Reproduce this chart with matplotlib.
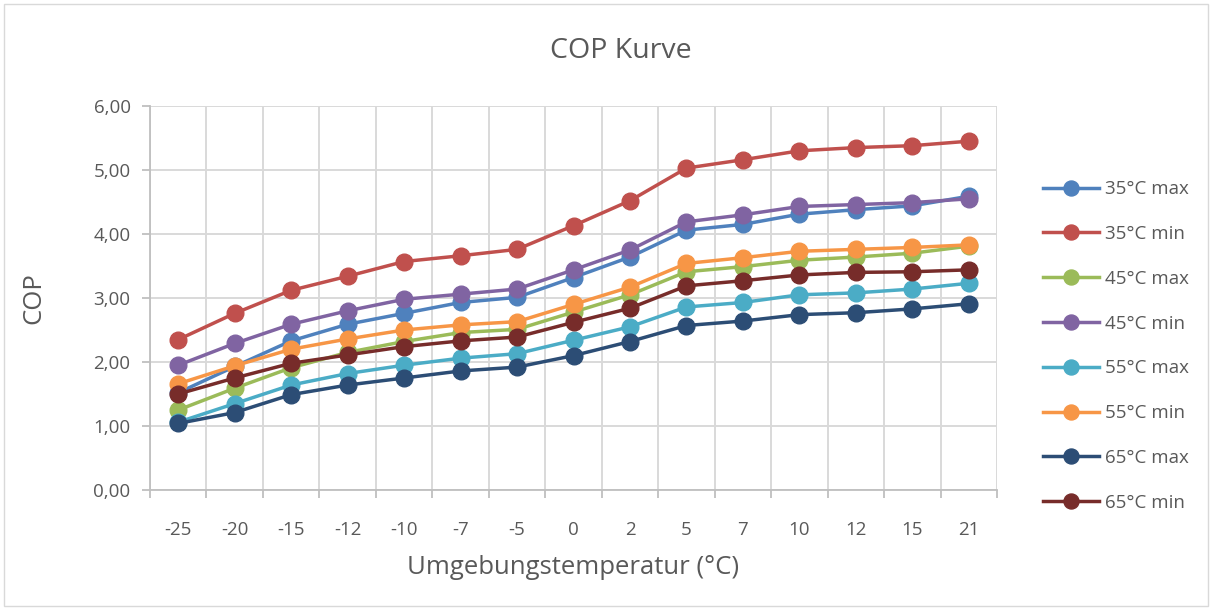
import numpy as np
import matplotlib.pyplot as plt
from matplotlib.patches import Rectangle

temps = ["-25", "-20", "-15", "-12", "-10", "-7", "-5", "0", "2", "5", "7", "10", "12", "15", "21"]

cop_35_max = [1.52, 1.93, 2.33, 2.59, 2.76, 2.93, 3.01, 3.32, 3.64, 4.06, 4.15, 4.31, 4.38, 4.44, 4.59]
cop_35_min = [2.35, 2.76, 3.12, 3.34, 3.57, 3.66, 3.76, 4.13, 4.52, 5.03, 5.16, 5.30, 5.35, 5.38, 5.45]
cop_45_max = [1.25, 1.59, 1.91, 2.15, 2.32, 2.46, 2.51, 2.78, 3.05, 3.41, 3.49, 3.59, 3.64, 3.70, 3.81]
cop_45_min = [1.95, 2.29, 2.59, 2.80, 2.98, 3.06, 3.14, 3.44, 3.75, 4.19, 4.30, 4.43, 4.46, 4.49, 4.55]
cop_55_max = [1.06, 1.35, 1.64, 1.82, 1.95, 2.06, 2.13, 2.34, 2.55, 2.86, 2.93, 3.05, 3.08, 3.14, 3.23]
cop_55_min = [1.66, 1.94, 2.20, 2.36, 2.50, 2.58, 2.63, 2.90, 3.17, 3.54, 3.63, 3.73, 3.76, 3.79, 3.83]
cop_65_max = [1.04, 1.21, 1.49, 1.64, 1.75, 1.86, 1.92, 2.10, 2.32, 2.57, 2.64, 2.74, 2.77, 2.83, 2.91]
cop_65_min = [1.50, 1.75, 1.98, 2.11, 2.24, 2.33, 2.39, 2.62, 2.84, 3.19, 3.27, 3.36, 3.40, 3.41, 3.44]

series = [
    ("35°C max", cop_35_max, "#4F81BD"),
    ("35°C min", cop_35_min, "#C0504D"),
    ("45°C max", cop_45_max, "#9BBB59"),
    ("45°C min", cop_45_min, "#8064A2"),
    ("55°C max", cop_55_max, "#4BACC6"),
    ("55°C min", cop_55_min, "#F79646"),
    ("65°C max", cop_65_max, "#2C4D75"),
    ("65°C min", cop_65_min, "#772C2A"),
]

plt.rcParams['font.family'] = ['Open Sans', 'DejaVu Sans']
txt = "#595959"
grid = "#d9d9d9"

fig = plt.figure(figsize=(12.13, 6.10), dpi=100)
ax = fig.add_axes([150/1213, 1-490/610, 847/1213, 384/610])

x = np.arange(len(temps))
for name, vals, col in series:
    ax.plot(x, vals, color=col, lw=2.5, marker="o", ms=12, label=name)

ax.set_xlim(-0.5, len(temps) - 0.5)
ax.set_ylim(0, 6)
ax.set_yticks(np.arange(0, 7, 1))
ax.set_yticklabels([f"{v:.2f}".replace(".", ",") for v in range(0, 7)])
ax.set_xticks(x)
ax.set_xticklabels(temps)
ax.set_xticks(np.arange(-0.5, len(temps), 1), minor=True)

ax.grid(True, which="major", axis="y", color=grid, lw=1.4)
ax.grid(True, which="minor", axis="x", color=grid, lw=1.4)
ax.set_axisbelow(True)
ax.tick_params(axis="x", which="major", length=0, pad=22, labelsize=13.5, labelcolor=txt)
ax.tick_params(axis="x", which="minor", length=6, color="#bfbfbf", width=1.3)
ax.tick_params(axis="y", length=6, color="#bfbfbf", width=1.3, pad=8, labelsize=13.5, labelcolor=txt)
for s in ["top", "right"]:
    ax.spines[s].set_visible(False)
for s in ["left", "bottom"]:
    ax.spines[s].set_color("#bfbfbf")
    ax.spines[s].set_linewidth(1.3)

ax.set_xlabel("Umgebungstemperatur (°C)", fontsize=18.5, color=txt, labelpad=12)
ax.set_ylabel("COP", fontsize=18.5, color=txt, labelpad=34)
fig.text(621/1213, 1-51/610, "COP Kurve", ha="center", va="center", fontsize=20.5, color=txt)

ax.legend(loc="center left", bbox_to_anchor=(1026/1213, 1-346/610), bbox_transform=fig.transFigure,
          frameon=False, fontsize=13.5, labelcolor=txt, handlelength=3.0, labelspacing=1.43,
          handletextpad=0.3, markerscale=0.9)

fig.patches.append(Rectangle((4/1213, 4/610), 1204/1213, 602/610, transform=fig.transFigure,
                             fill=False, edgecolor="#d9d9d9", lw=1))

fig.savefig("out.png", dpi=100)
